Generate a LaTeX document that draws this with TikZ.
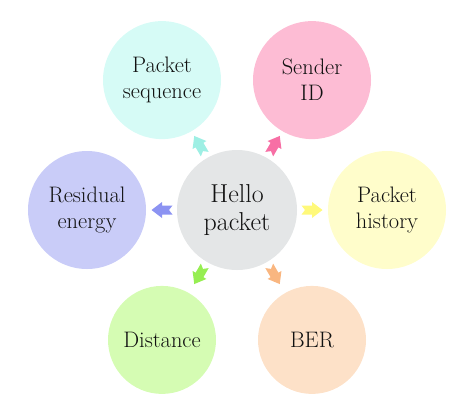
\documentclass[tikz,border=0pt]{standalone}
\usepackage{fontspec}
\usetikzlibrary{calc}
\definecolor{cHello}{HTML}{E4E6E7}
\definecolor{cSeq}{HTML}{D6FBF6}
\definecolor{aSeq}{HTML}{9EEFE4}
\definecolor{cSend}{HTML}{FDBCD4}
\definecolor{aSend}{HTML}{F76FA5}
\definecolor{cRes}{HTML}{C9CCF8}
\definecolor{aRes}{HTML}{8C93F2}
\definecolor{cHist}{HTML}{FFFDCB}
\definecolor{aHist}{HTML}{FFF97A}
\definecolor{cDist}{HTML}{D5FCB3}
\definecolor{aDist}{HTML}{96EE52}
\definecolor{cBER}{HTML}{FDE1C8}
\definecolor{aBER}{HTML}{F9B680}
\definecolor{txt}{HTML}{111111}
\tikzset{
  bubble/.style={circle, minimum size=#1, inner sep=0pt, align=center,
    font=\fontsize{22.5}{26}\selectfont, text=txt},
  fatarrow/.pic={\fill (-10.5,-4.5) -- (0,-4.5) -- (0,-8) -- (10.5,0) -- (0,8) -- (0,4.5) -- (-10.5,4.5) -- (-7,0) -- cycle;}
}
\begin{document}
\begin{tikzpicture}[x=1bp,y=1bp]
\useasboundingbox (0,0) rectangle (474,-414);
\node[bubble=120bp, fill=cHello, font=\fontsize{26}{28.5}\selectfont] (hello) at (237,-210) {Hello\\packet};
\node[bubble=118bp, fill=cSeq]  (seq)  at ($(hello)+(120:150)$) {Packet\\sequence};
\node[bubble=118bp, fill=cSend] (send) at ($(hello)+(60:150)$) {Sender\\ID};
\node[bubble=118bp, fill=cRes]  (res)  at ($(hello)+(180:150)$) {Residual\\energy};
\node[bubble=118bp, fill=cHist] (hist) at ($(hello)+(0:150)$) {Packet\\history};
\node[bubble=108bp, fill=cDist] (dist) at ($(hello)+(-120:150)$) {Distance};
\node[bubble=108bp, fill=cBER]  (ber)  at ($(hello)+(-60:150)$) {BER};
\pic[aSeq, rotate=120]  at ($(hello)!0.5!(seq)$)  {fatarrow};
\pic[aSend, rotate=60]  at ($(hello)!0.5!(send)$) {fatarrow};
\pic[aRes, rotate=180]  at ($(hello)!0.5!(res)$)  {fatarrow};
\pic[aHist, rotate=0]   at ($(hello)!0.5!(hist)$) {fatarrow};
\pic[aDist, rotate=-120] at ($(hello)!0.5!(dist)$) {fatarrow};
\pic[aBER, rotate=-60]  at ($(hello)!0.5!(ber)$)  {fatarrow};
\end{tikzpicture}
\end{document}
